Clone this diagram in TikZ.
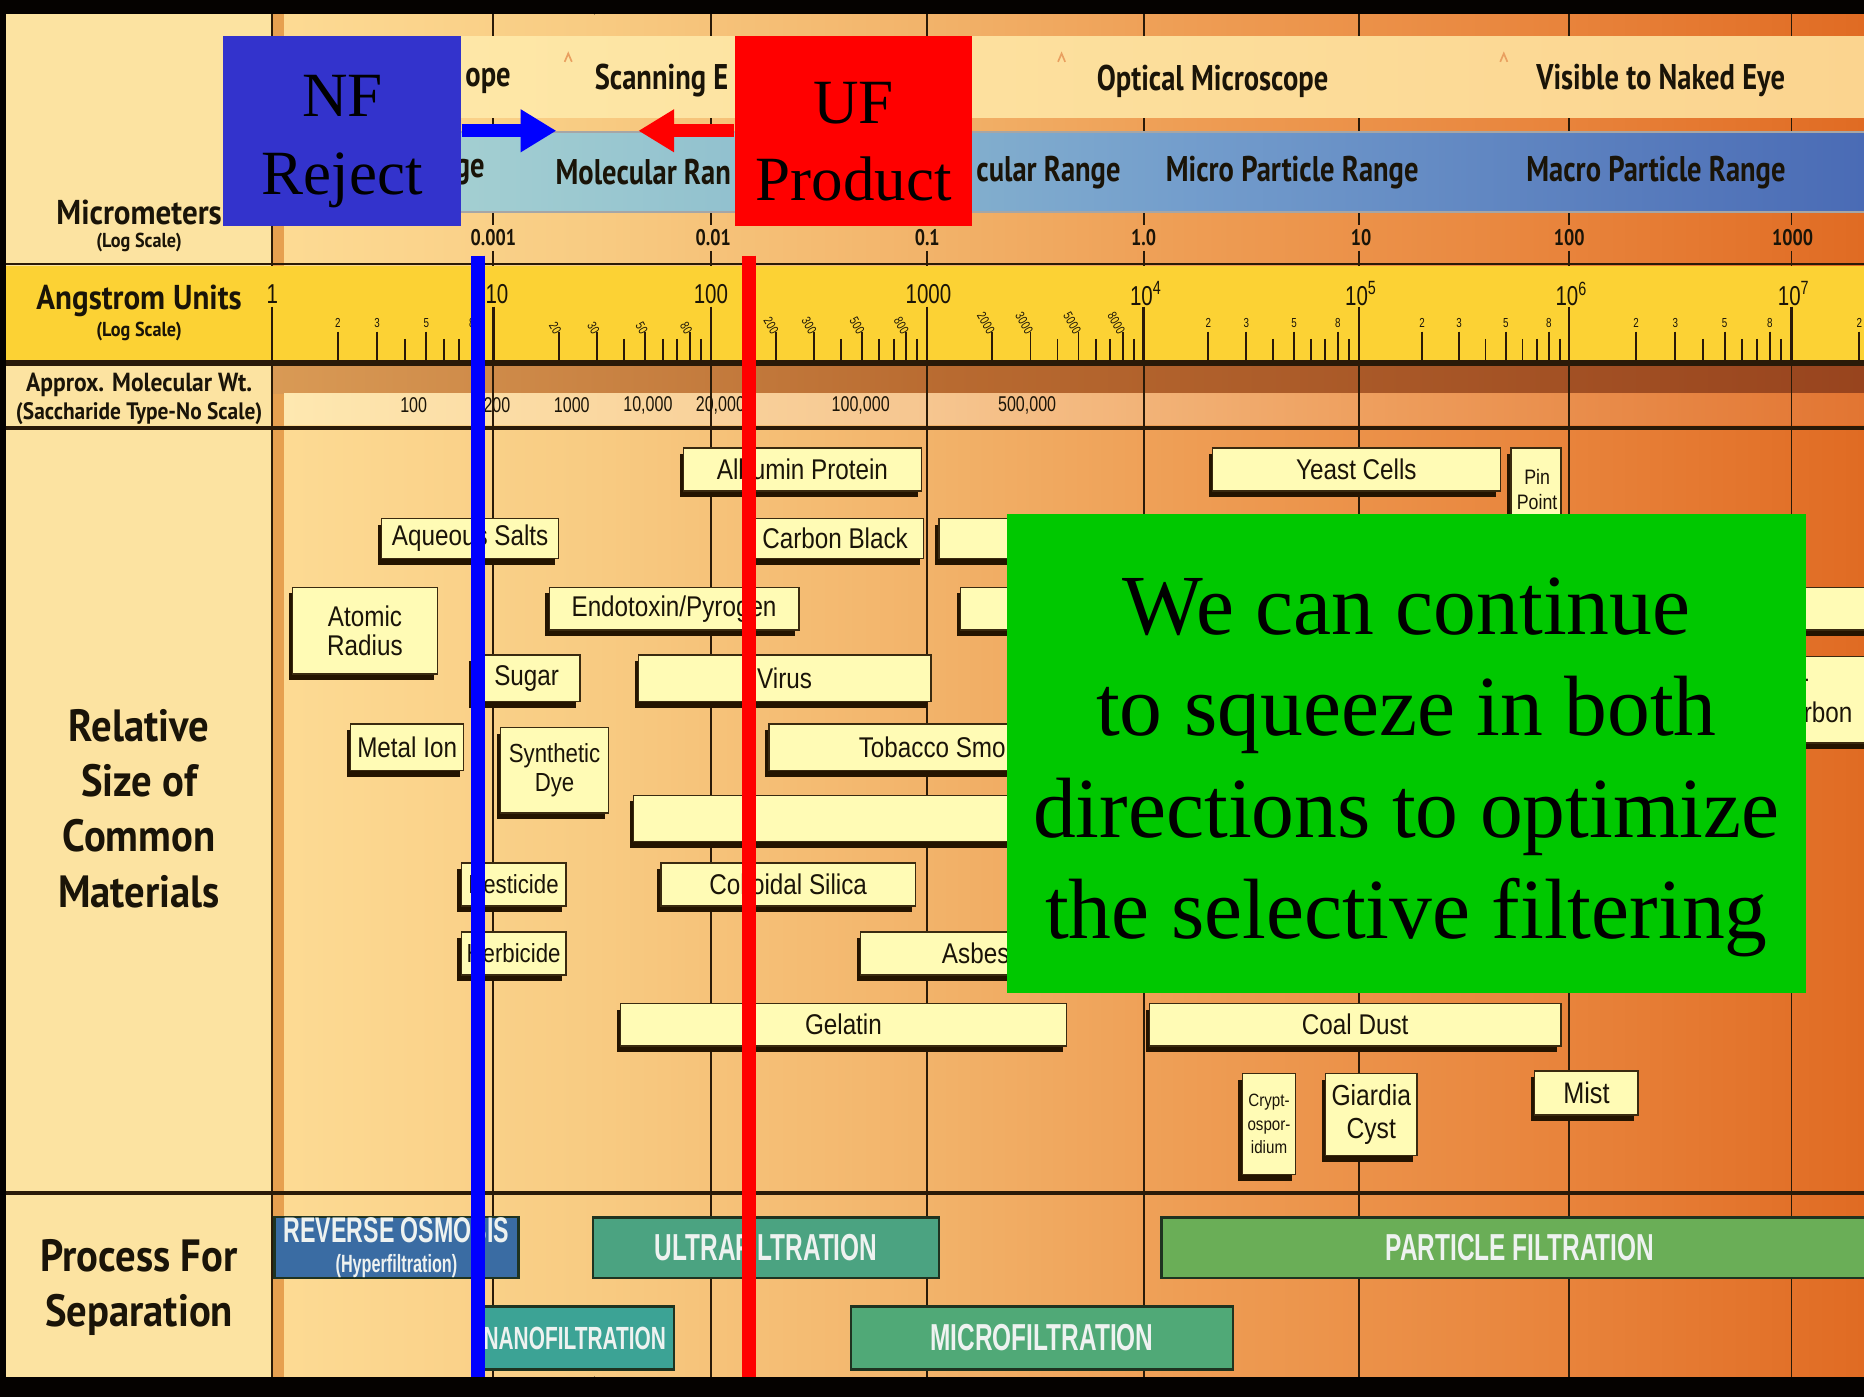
\documentclass[tikz,border=0pt]{standalone}
\usepackage{fontspec}
\setmainfont{Liberation Serif}
\newfontfamily\headfont[FakeStretch=0.8]{PT Sans}
\newfontfamily\sidefont[FakeStretch=0.9]{PT Sans}
\newfontfamily\boxfont[FakeStretch=0.85]{Liberation Sans}
\newfontfamily\numfont[FakeStretch=0.75]{Liberation Sans}
\newfontfamily\procfont[FakeStretch=0.65]{Liberation Sans}
\usetikzlibrary{arrows.meta,shadows}

% palette
\definecolor{frame}{HTML}{050200}
\definecolor{sidebg}{HTML}{FCE3A1}
\definecolor{w0}{HTML}{FDDB94}
\definecolor{w1}{HTML}{F8CB82}
\definecolor{w2}{HTML}{F2B36A}
\definecolor{w3}{HTML}{EE9D54}
\definecolor{w4}{HTML}{E8833B}
\definecolor{w5}{HTML}{E06B23}
\definecolor{strip}{HTML}{E6A050}
\definecolor{m0}{HTML}{D99A55}
\definecolor{m1}{HTML}{B86A30}
\definecolor{m2}{HTML}{98441E}
\definecolor{p0}{HTML}{FEE8B0}
\definecolor{p1}{HTML}{F6C690}
\definecolor{p2}{HTML}{EE9F5E}
\definecolor{p3}{HTML}{E27532}
\definecolor{s0}{HTML}{FEEAAA}
\definecolor{s1}{HTML}{FBD48F}
\definecolor{r0}{HTML}{AED7D3}
\definecolor{r1}{HTML}{93C2CF}
\definecolor{r2}{HTML}{739DCC}
\definecolor{r3}{HTML}{4A6BB5}
\definecolor{ang}{HTML}{FCD234}
\definecolor{ink}{HTML}{1A1408}
\definecolor{gridc}{HTML}{2A1A08}
\definecolor{boxfill}{HTML}{FFFBB5}
\definecolor{boxedge}{HTML}{3A2A10}
\definecolor{shadowc}{HTML}{241400}
\definecolor{caretc}{HTML}{E9A060}
\definecolor{procedge}{HTML}{1F3320}
\definecolor{proctext}{HTML}{EEF2F0}
\definecolor{rofill}{HTML}{3A6CA3}
\definecolor{uffill}{HTML}{4BA381}
\definecolor{pffill}{HTML}{6AAE57}
\definecolor{nffill}{HTML}{3CA395}
\definecolor{mffill}{HTML}{50A977}
\definecolor{nfblue}{HTML}{3333CC}
\definecolor{bluemark}{HTML}{0000FF}
\definecolor{redmark}{HTML}{FF0000}
\definecolor{notegreen}{HTML}{00C800}

\tikzset{
  grid/.style={draw=gridc, line width=0.8pt},
  sep/.style={draw=gridc},
  tick/.style={draw=gridc, line width=0.8pt},
  majortick/.style={draw=gridc, line width=1pt},
  head/.style={inner sep=0pt, text=ink, font=\headfont\bfseries\fontsize{15}{16}\selectfont},
  side/.style={inner sep=0pt, text=ink, align=center, font=\sidefont\bfseries\fontsize{14.5}{16}\selectfont},
  sidesmall/.style={inner sep=0pt, text=ink, align=center, font=\sidefont\bfseries\fontsize{8.5}{9}\selectfont},
  sidebig/.style={inner sep=0pt, text=ink, align=center, font=\sidefont\bfseries\fontsize{19}{23.25}\selectfont},
  micro/.style={inner sep=0pt, text=ink, font=\headfont\bfseries\fontsize{9.5}{10}\selectfont},
  majlab/.style={inner sep=0pt, text=ink, font=\numfont\fontsize{11.5}{12}\selectfont},
  minorlab/.style={inner sep=0.5pt, text=ink, font=\numfont\fontsize{5.5}{6}\selectfont},
  mwlab/.style={inner sep=0pt, text=ink, font=\numfont\fontsize{9}{10}\selectfont},
  matbox/.style={draw=boxedge, line width=0.6pt, fill=boxfill, inner sep=0pt,
    text=ink, align=center, font=\boxfont\fontsize{12}{12.5}\selectfont,
    drop shadow={shadow xshift=-1.6pt, shadow yshift=-2.6pt, fill=shadowc, opacity=1}},
  boxtext/.style={inner sep=0pt, text=ink, font=\boxfont\fontsize{12}{12.5}\selectfont},
  procbox/.style={draw=procedge, line width=1pt, inner sep=0pt, text=proctext,
    align=center, font=\procfont\bfseries\fontsize{15.8}{16}\selectfont},
  tag/.style={inner sep=0pt, minimum width=100pt, minimum height=80pt},
  tagtext/.style={inner sep=0pt, align=center, text=black, yshift=-4.5pt,
    font=\fontsize{26.5}{32.5}\selectfont},
  note/.style={fill=notegreen, inner sep=0pt, minimum width=336pt, minimum height=201.5pt},
  notetext/.style={inner sep=0pt, align=center, text=black, yshift=-6pt,
    font=\fontsize{36}{42.5}\selectfont},
  caret/.style={draw=caretc, line width=0.7pt}
}

\begin{document}
\begin{tikzpicture}[x=0.5pt,y=-0.5pt]
\useasboundingbox (0,0) rectangle (1568,1175);
\clip (0,0) rectangle (1568,1175);

% ---------- frame and backgrounds ----------
\fill[frame] (0,0) rectangle (1568,1175);
\fill[sidebg] (5,12) rectangle (229,1158);
\fill[left color=w0,right color=w1] (229,12) rectangle (501,1158);
\fill[left color=w1,right color=w2] (500,12) rectangle (781,1158);
\fill[left color=w2,right color=w3] (780,12) rectangle (1001,1158);
\fill[left color=w3,right color=w4] (1000,12) rectangle (1321,1158);
\fill[left color=w4,right color=w5] (1320,12) rectangle (1568,1158);
\fill[strip] (230,12) rectangle (239,1158);

% molecular weight row
\fill[left color=m0,right color=m1] (229,307) rectangle (801,331);
\fill[left color=m1,right color=m2] (800,307) rectangle (1568,331);
\fill[left color=p0,right color=p1] (239,331) rectangle (781,357);
\fill[left color=p1,right color=p2] (780,331) rectangle (1151,357);
\fill[left color=p2,right color=p3] (1150,331) rectangle (1568,357);

% decade grid lines, broken where the micrometer values sit
\draw[grid] (229,12) -- (229,1158);
\foreach \gx in {415,598,780,962,1143,1320,1507}
  \draw[grid] (\gx,12) -- (\gx,189) (\gx,211) -- (\gx,1158);

% microscope band and range band
\fill[left color=s0,right color=s1] (239,31) rectangle (1568,99);
\fill[left color=r0,right color=r1] (239,111) rectangle (601,178);
\fill[left color=r1,right color=r2] (600,111) rectangle (1001,178);
\fill[left color=r2,right color=r3] (1000,111) rectangle (1568,178);
\draw[draw=gray!70, line width=0.8pt] (239,111) -- (1568,111) (239,178) -- (1568,178);

% angstrom row
\fill[ang] (5,224) rectangle (1568,304);

% row separators
\draw[sep, line width=1pt] (5,222) -- (1568,222);
\draw[sep, line width=2.5pt] (5,305) -- (1568,305);
\draw[sep, line width=1.5pt] (5,360) -- (1568,360);
\draw[sep, line width=1.5pt] (5,1003.5) -- (1568,1003.5);

% ---------- angstrom scale ----------
\foreach \gx in {229,415,598,780,962,1143,1320,1507}
  \draw[majortick] (\gx,258) -- (\gx,304);
\foreach \xa/\xb/\la/\lb/\lc/\ld/\rt [count=\d] in
  {228/415/2/3/5/8/0, 415/598/20/30/50/80/-60, 598/780/200/300/500/800/-60,
   780/962/2000/3000/5000/8000/-60, 962/1143/2/3/5/8/0, 1143/1320/2/3/5/8/0,
   1320/1507/2/3/5/8/0}{
  \foreach \k/\lab in {2/\la,3/\lb,5/\lc,8/\ld}{
    \pgfmathsetmacro\tx{\xa+(\xb-\xa)*log10(\k)}
    \draw[tick] (\tx,279) -- (\tx,304);
    \ifnum\rt=0
      \node[minorlab] (ml\d-\k) at (\tx,272) {\lab};
    \else
      \node[minorlab, anchor=east, rotate=\rt] (ml\d-\k) at (\tx,281) {\lab};
    \fi
  }
  \foreach \k in {4,6,7,9}{
    \pgfmathsetmacro\tx{\xa+(\xb-\xa)*log10(\k)}
    \draw[tick] (\tx,285) -- (\tx,304);
  }
}
\draw[tick] (1564,279) -- (1564,304);
\node[minorlab] (ml8-2) at (1564,272) {2};

\node[majlab] (a0) at (229,247) {1};
\node[majlab] (a1) at (418,247) {10};
\node[majlab] (a2) at (598,247) {100};
\node[majlab] (a3) at (781,247) {1000};
\node[majlab] (a4) at (964,247) {10\textsuperscript{4}};
\node[majlab] (a5) at (1145,247) {10\textsuperscript{5}};
\node[majlab] (a6) at (1322,247) {10\textsuperscript{6}};
\node[majlab] (a7) at (1509,247) {10\textsuperscript{7}};

% ---------- micrometer scale ----------
\node[micro] (u0) at (415,200) {0.001};
\node[micro] (u1) at (600,200) {0.01};
\node[micro] (u2) at (780,200) {0.1};
\node[micro] (u3) at (962,200) {1.0};
\node[micro] (u4) at (1145,200) {10};
\node[micro] (u5) at (1320,200) {100};
\node[micro] (u6) at (1508,200) {1000};

% microscope labels
\node[head, anchor=east] (mic0) at (430,68) {ope};
\node[head, anchor=west] (mic1) at (500,68) {Scanning E};
\node[head] (mic2) at (1020,68) {Optical Microscope};
\node[head] (mic3) at (1397,68) {Visible to Naked Eye};
\foreach \cx in {478,893,1265}
  \draw[caret] (\cx-3,52) -- (\cx,45) -- (\cx+3,52);

% range labels
\node[head, anchor=east] (rg0) at (408,145) {ge};
\node[head, anchor=west] (rg1) at (467,145) {Molecular Ran};
\node[head, anchor=east] (rg2) at (943,145) {cular Range};
\node[head] (rg3) at (1087,145) {Micro Particle Range};
\node[head] (rg4) at (1393,145) {Macro Particle Range};

% molecular weight labels
\node[mwlab] (mw0) at (348,341) {100};
\node[mwlab] (mw1) at (418,341) {200};
\node[mwlab] (mw2) at (481,341) {1000};
\node[mwlab] (mw3) at (545,341) {10,000};
\node[mwlab] (mw4) at (606,341) {20,000};
\node[mwlab] (mw5) at (724,341) {100,000};
\node[mwlab] (mw6) at (864,341) {500,000};

% ---------- side column ----------
\node[side] (hmic) at (117,179) {Micrometers};
\node[sidesmall] (hmicl) at (117,204) {(Log Scale)};
\node[side] (hang) at (117,253) {Angstrom Units};
\node[sidesmall] (hangl) at (117,279) {(Log Scale)};
\node[side, font=\sidefont\bfseries\fontsize{11}{12}\selectfont] (hmw) at (117,324) {Approx. Molecular Wt.};
\node[side, font=\sidefont\bfseries\fontsize{10}{11}\selectfont] (hmwl) at (117,348) {(Saccharide Type-No Scale)};
\node[sidebig] (hrel) at (117,680) {Relative\\Size of\\Common\\Materials};
\node[sidebig] (hproc) at (117,1083) {Process For\\Separation};

% ---------- common materials ----------
\node[matbox, minimum width=100pt, minimum height=18pt] (alb) at (675,395) {Albumin Protein};
\node[matbox, minimum width=74.5pt, minimum height=17pt] (aqs) at (395.5,453) {Aqueous Salts};
\node[matbox, minimum width=74.5pt, minimum height=17pt] (cbk) at (702.5,453) {Carbon Black};
\node[matbox, minimum width=55pt, minimum height=17pt] (hid1) at (845,453) {};
\node[matbox, minimum width=121pt, minimum height=18pt] (yst) at (1141,395) {Yeast Cells};
\node[matbox, minimum width=21pt, minimum height=33pt] (pin) at (1292,410) {};
\node[boxtext, align=center, font=\boxfont\fontsize{8.8}{10.5}\selectfont] (pint) at (1293,412) {Pin\\Point};
\node[matbox, minimum width=61pt, minimum height=36.5pt] (atr) at (307,530.5) {Atomic\\Radius};
\node[matbox, minimum width=105pt, minimum height=18pt] (endo) at (567,512) {Endotoxin/Pyrogen};
\node[matbox, minimum width=46pt, minimum height=18pt] (hid2) at (854,512) {};
\node[matbox, minimum width=50pt, minimum height=18pt] (hid3) at (1550,512) {};
\node[matbox, minimum width=45pt, minimum height=19.5pt] (sug) at (443,570.5) {Sugar};
\node[matbox, minimum width=123pt, minimum height=19.5pt] (vir) at (660,570.5) {Virus};
\node[matbox, minimum width=45pt, minimum height=36.5pt] (hid4) at (1555,588.5) {};
\node[boxtext, anchor=west] (hid4a) at (1514,578) {r};
\node[boxtext, anchor=west] (hid4b) at (1517,599) {rbon};
\node[matbox, minimum width=47.5pt, minimum height=19.5pt] (mtl) at (342.5,628.5) {Metal Ion};
\node[matbox, minimum width=45.5pt, minimum height=36pt, font=\boxfont\fontsize{11}{12.5}\selectfont] (syn) at (466.5,648) {Synthetic\\Dye};
\node[matbox, minimum width=126.5pt, minimum height=19.5pt] (tob) at (773.5,628.5) {};
\node[boxtext, anchor=west] (tobt) at (722,628.5) {Tobacco Smo};
\node[matbox, minimum width=183.5pt, minimum height=19.5pt] (hid5) at (716.5,688.5) {};
\node[matbox, minimum width=44pt, minimum height=18pt, font=\boxfont\fontsize{11}{12}\selectfont] (pest) at (432,744) {Pesticide};
\node[matbox, minimum width=107pt, minimum height=18pt] (col) at (663,744) {Colloidal Silica};
\node[matbox, minimum width=44pt, minimum height=18pt, font=\boxfont\fontsize{11}{12}\selectfont] (herb) at (432,802) {Herbicide};
\node[matbox, minimum width=88pt, minimum height=18pt] (asb) at (812,802) {};
\node[boxtext, anchor=west] (asbt) at (792,802) {Asbes};
\node[matbox, minimum width=187.5pt, minimum height=18pt] (gel) at (709.5,862) {Gelatin};
\node[matbox, minimum width=173pt, minimum height=18pt] (coal) at (1140,862) {Coal Dust};
\node[matbox, minimum width=22.5pt, minimum height=42.5pt, font=\boxfont\fontsize{7.5}{10}\selectfont] (cry) at (1067.5,945.5) {Crypt-\\ospor-\\idium};
\node[matbox, minimum width=38.5pt, minimum height=34.5pt, font=\boxfont\fontsize{12.2}{14}\selectfont] (gia) at (1153.5,937.5) {Giardia\\Cyst};
\node[matbox, minimum width=43.5pt, minimum height=18.5pt, font=\boxfont\fontsize{12.5}{13}\selectfont] (mist) at (1334.5,919.5) {Mist};

% ---------- separation processes ----------
\node[procbox, fill=rofill, minimum width=102.5pt, minimum height=25.5pt] (ro) at (333.5,1049.5)
  {\fontsize{15}{13}\selectfont REVERSE OSMOSIS\\[-3pt]\fontsize{10.5}{10}\selectfont (Hyperfiltration)};
\node[procbox, fill=uffill, minimum width=145.5pt, minimum height=25.5pt] (ufp) at (644.5,1049.5) {ULTRAFILTRATION};
\node[procbox, fill=pffill, minimum width=301.5pt, minimum height=25.5pt] (pfp) at (1278.5,1049.5) {PARTICLE FILTRATION};
\node[procbox, fill=nffill, minimum width=83.5pt, minimum height=26.5pt, font=\procfont\bfseries\fontsize{13.5}{14}\selectfont] (nfp) at (483.5,1125.5) {NANOFILTRATION};
\node[procbox, fill=mffill, minimum width=160.5pt, minimum height=26.5pt] (mfp) at (876.5,1125.5) {MICROFILTRATION};

% ---------- cut-off markers ----------
\coordinate (nftop) at (402,215);
\coordinate (nfbot) at (402,1158);
\coordinate (uftop) at (630,215);
\coordinate (ufbot) at (630,1158);
\draw[bluemark, line width=6pt] (nftop) -- (nfbot);
\draw[redmark, line width=6pt] (uftop) -- (ufbot);

\node[tag, fill=nfblue, label={[tagtext]center:{NF\\Reject}}] (nf) at (288,110) {};
\node[tag, fill=redmark, label={[tagtext]center:{UF\\Product}}] (uf) at (718,110) {};
\coordinate (nftip) at (468,110);
\coordinate (uftip) at (537,110);
\draw[bluemark, line width=5.5pt, -{Triangle[length=15pt,width=17pt]}] (nf.east) -- (nftip);
\draw[redmark, line width=5.5pt, -{Triangle[length=15pt,width=17pt]}] (uf.west) -- (uftip);

\node[note, label={[notetext]center:{We can continue\\to squeeze in both\\directions to optimize\\the selective filtering}}] (msg) at (1183,633.5) {};
\end{tikzpicture}
\end{document}
